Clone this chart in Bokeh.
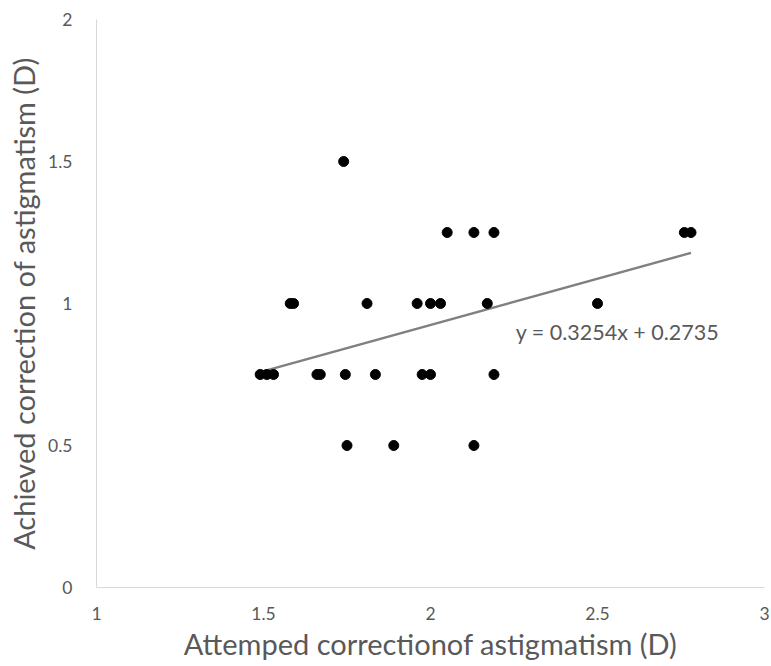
from bokeh.plotting import figure
from bokeh.models import Range1d, FixedTicker, Label
from bokeh.embed import file_html
from bokeh.resources import INLINE

# Data
attempted = [1.49, 1.51, 1.53, 1.66, 1.67, 1.745, 1.835, 1.975, 2.0, 2.19,
             1.58, 1.59, 1.81, 1.96, 2.0, 2.03, 2.17, 2.5,
             2.05, 2.13, 2.19, 2.76, 2.78,
             1.74,
             1.75, 1.89, 2.13]
achieved = [0.75, 0.75, 0.75, 0.75, 0.75, 0.75, 0.75, 0.75, 0.75, 0.75,
            1.0, 1.0, 1.0, 1.0, 1.0, 1.0, 1.0, 1.0,
            1.25, 1.25, 1.25, 1.25, 1.25,
            1.5,
            0.5, 0.5, 0.5]
trend_slope = 0.3254
trend_intercept = 0.2735
trend_text = "y = 0.3254x + 0.2735"

x_ticks = [1, 1.5, 2, 2.5, 3]
x_tick_labels = ["1", "1.5", "2", "2.5", "3"]
y_ticks = [0, 0.5, 1, 1.5, 2]
y_tick_labels = ["0", "0.5", "1", "1.5", "2"]

x_title = "Attemped correctionof astigmatism (D)"
y_title = "Achieved correction of astigmatism (D)"

FONT = "Lato"
GREY = "#595959"

p = figure(width=771, height=666, output_backend="svg", toolbar_location=None,
           x_range=Range1d(1, 3), y_range=Range1d(0, 2),
           min_border_left=96, min_border_right=7, min_border_top=19,
           min_border_bottom=79)
p.outline_line_color = None
p.grid.visible = False
p.background_fill_color = "white"
p.border_fill_color = "white"

# trendline over the data's x extent
x0, x1 = min(attempted), max(attempted)
p.line([x0, x1], [trend_slope * x0 + trend_intercept, trend_slope * x1 + trend_intercept],
       line_color="#808080", line_width=2.5)

p.scatter(attempted, achieved, size=10, color="black")

p.add_layout(Label(x=2.255, y=0.9, text=trend_text, text_font=FONT,
                   text_font_size="21.5px", text_color=GREY,
                   text_baseline="middle", text_align="left"))

for ax, ticks, labels, title in ((p.xaxis, x_ticks, x_tick_labels, x_title),
                                 (p.yaxis, y_ticks, y_tick_labels, y_title)):
    ax.ticker = FixedTicker(ticks=ticks)
    ax.major_label_overrides = {t: l for t, l in zip(ticks, labels)}
    ax.axis_label = title
    ax.axis_line_color = "#d9d9d9"
    ax.axis_line_width = 1
    ax.major_tick_line_color = None
    ax.minor_tick_line_color = None
    ax.major_label_text_font = FONT
    ax.major_label_text_font_size = "17.5px"
    ax.major_label_text_color = GREY
    ax.axis_label_text_font = FONT
    ax.axis_label_text_font_size = "29px"
    ax.axis_label_text_font_style = "normal"
    ax.axis_label_text_color = GREY

p.xaxis.major_label_standoff = 13
p.xaxis.axis_label_standoff = 3
p.yaxis.major_label_standoff = 18
p.yaxis.axis_label_standoff = 4

open("out.html", "w").write(file_html(p, INLINE))
